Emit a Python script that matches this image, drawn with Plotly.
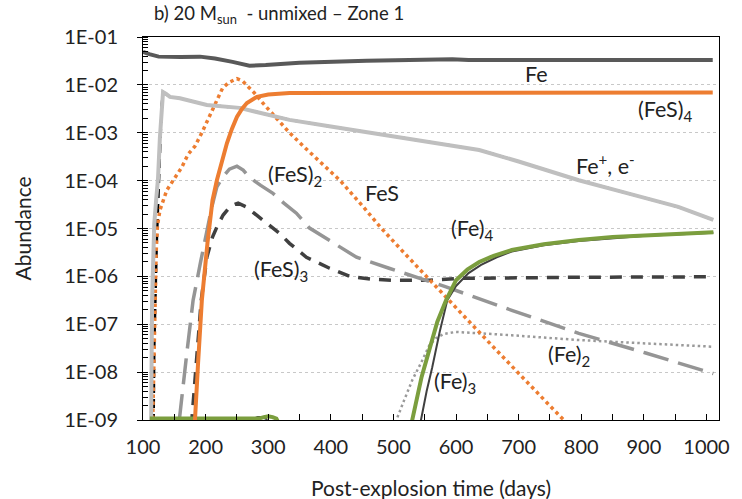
import plotly.graph_objects as go

# ---------------- data ----------------
fe_x = [100, 110, 125, 138, 160, 191, 215, 243, 260, 270, 296, 350, 457, 594, 620, 800, 1010]
fe_y = [0.049, 0.0437, 0.0389, 0.038, 0.038, 0.0389, 0.0355, 0.0302, 0.0263, 0.0251, 0.026,
        0.029, 0.032, 0.0343, 0.0331, 0.0331, 0.0331]

fes4_x = [176, 183, 188, 194, 203, 211, 218, 226, 234, 242, 250, 258, 266, 282, 300, 334, 400, 500, 700, 1010]
fes4_y = [1e-10, 1e-9, 1.58e-8, 3.16e-7, 5.0e-6, 3.89e-5, 1.02e-4, 2.69e-4, 6.03e-4, 1.20e-3, 2.14e-3,
          3.16e-3, 4.17e-3, 5.62e-3, 6.31e-3, 6.76e-3, 6.76e-3, 6.76e-3, 6.84e-3, 6.92e-3]

fes_x = [114, 116, 119, 121, 123, 127, 138, 150, 162, 172, 183, 194, 207, 218, 227, 237, 250, 259, 268,
         278, 290, 305, 320, 334, 360, 387, 415, 450, 481, 515, 552, 590, 625, 660, 699, 735, 772, 800]
fes_y = [1e-10, 3.98e-9, 3.16e-7, 3.16e-6, 1.12e-5, 2.40e-5, 6.31e-5, 1.07e-4, 1.91e-4, 3.55e-4, 5.25e-4,
         1.0e-3, 2.40e-3, 4.68e-3, 8.51e-3, 1.12e-2, 1.35e-2, 1.20e-2, 9.33e-3, 6.76e-3, 4.37e-3, 2.63e-3,
         1.58e-3, 1.0e-3, 4.68e-4, 2.14e-4, 1.0e-4, 3.02e-5, 1.0e-5, 3.31e-6, 1.0e-6, 3.02e-7, 1.0e-7,
         3.31e-8, 1.0e-8, 3.16e-9, 1.0e-9, 3.98e-10]

feplus_x = [111, 113, 114.5, 116, 118, 121, 124, 127, 130, 132, 137, 143, 159, 202, 254, 283, 334, 400,
            480, 560, 637, 700, 796, 870, 955, 1011]
feplus_y = [1e-10, 1e-9, 3.16e-7, 3.16e-6, 1.26e-5, 3.89e-5, 1.12e-4, 7.94e-4, 5.01e-3, 7.08e-3, 6.46e-3,
            5.62e-3, 5.25e-3, 3.80e-3, 3.31e-3, 2.69e-3, 1.86e-3, 1.35e-3, 9.33e-4, 6.31e-4, 4.37e-4,
            2.51e-4, 1.02e-4, 5.62e-5, 2.82e-5, 1.51e-5]

elec_x = [115, 117, 118, 120, 122, 125, 128, 130, 132, 137, 143, 159, 202, 254, 283, 334, 400,
          480, 560, 637, 700, 796, 870, 955, 1011]
elec_y = [1e-10, 1e-9, 3.16e-8, 5.01e-7, 5.01e-6, 6.31e-5, 6.31e-4, 3.98e-3, 7.08e-3, 6.46e-3,
          5.62e-3, 5.25e-3, 3.80e-3, 3.31e-3, 2.69e-3, 1.86e-3, 1.35e-3, 9.33e-4, 6.31e-4, 4.37e-4,
          2.51e-4, 1.02e-4, 5.62e-5, 2.82e-5, 1.51e-5]

fes2_x = [150, 158, 170, 180, 192, 202, 210, 218, 227, 238, 250, 260, 270, 288, 307, 325, 345, 366,
          403, 441, 493, 584, 689, 796, 903, 1011]
fes2_y = [3.16e-11, 1e-9, 2.51e-8, 3.16e-7, 2.0e-6, 9.33e-6, 2.82e-5, 7.41e-5, 1.17e-4, 1.74e-4, 2.0e-4,
          1.66e-4, 1.17e-4, 7.94e-5, 5.5e-5, 3.39e-5, 2.09e-5, 1.02e-5, 5.01e-6, 2.51e-6, 1.48e-6,
          6.03e-7, 1.95e-7, 6.46e-8, 2.51e-8, 9.33e-9]

fes3_x = [172, 178, 186, 193, 202, 211, 218, 228, 240, 252, 265, 291, 318, 334, 361, 398, 430, 466,
          500, 557, 610, 800, 1011]
fes3_y = [1e-10, 1e-9, 3.16e-8, 3.16e-7, 2.51e-6, 6.61e-6, 1.07e-5, 1.91e-5, 2.95e-5, 3.39e-5, 2.82e-5,
          1.51e-5, 7.94e-6, 4.90e-6, 2.51e-6, 1.48e-6, 1.0e-6, 8.7e-7, 8.3e-7, 8.3e-7, 9.1e-7, 9.6e-7, 9.8e-7]

fe4_x = [111, 200, 285, 293, 300, 307, 313, 318, None,
         520, 530, 545, 557, 570, 584, 600, 618, 637, 660, 689, 740, 796, 850, 903, 960, 1011]
fe4_y = [1.07e-9, 1.07e-9, 1.07e-9, 1.15e-9, 1.2e-9, 1.15e-9, 1.07e-9, 8e-10, None,
         1e-10, 1e-9, 7.94e-9, 2.88e-8, 1.12e-7, 3.16e-7, 8.32e-7, 1.38e-6, 2.0e-6, 2.69e-6, 3.55e-6,
         4.68e-6, 5.75e-6, 6.61e-6, 7.24e-6, 7.76e-6, 8.32e-6]

fe3_x = [268, 275, 283, 290, 297, 302, None,
         535, 544, 553, 562, 574, 586, 600, 620, 640, 665, 689, 740, 796, 850, 903, 960, 1011]
fe3_y = [8e-10, 1.05e-9, 1.15e-9, 1.15e-9, 1.05e-9, 8e-10, None,
         1e-10, 1e-9, 3.98e-9, 1.26e-8, 7.08e-8, 3.16e-7, 6.31e-7, 1.17e-6, 1.74e-6, 2.51e-6, 3.31e-6,
         4.47e-6, 5.5e-6, 6.31e-6, 7.08e-6, 7.59e-6, 8.13e-6]

fe2_x = [495, 506, 517, 530, 544, 557, 568, 581, 600, 637, 664, 689, 796, 903, 1011]
fe2_y = [3.16e-10, 1.10e-9, 2.57e-9, 6.76e-9, 1.55e-8, 3.55e-8, 5.13e-8, 6.31e-8, 6.92e-8, 6.61e-8,
         6.17e-8, 5.89e-8, 4.68e-8, 3.98e-8, 3.39e-8]

y_tickvals = [1e-9, 1e-8, 1e-7, 1e-6, 1e-5, 1e-4, 1e-3, 1e-2, 1e-1]
y_ticktext = ["1E-09", "1E-08", "1E-07", "1E-06", "1E-05", "1E-04", "1E-03", "1E-02", "1E-01"]

# ---------------- figure ----------------
FONT = "Lato"
TXT = "#222222"
ORANGE = "#ED7D31"

fig = go.Figure()

def add(x, y, color, width, dash="solid"):
    fig.add_trace(go.Scatter(x=x, y=y, mode="lines", connectgaps=False,
                             line=dict(color=color, width=width, dash=dash),
                             hoverinfo="skip", showlegend=False))

add(elec_x, elec_y, "#000000", 2.5, "9px,6px")
add(fe2_x, fe2_y, "#9A9A9A", 2.5, "2.5px,3px")
add(fes3_x, fes3_y, "#404040", 3.5, "12px,9px")
add(fes2_x, fes2_y, "#959595", 3.5, "26px,10px")
add(fes_x, fes_y, ORANGE, 3.5, "3.5px,3.5px")
add(feplus_x, feplus_y, "#BFBFBF", 4)
add(fe3_x, fe3_y, "#404040", 2)
add(fe4_x, fe4_y, "#7B9E3E", 4)
add(fes4_x, fes4_y, ORANGE, 4)
add(fe_x, fe_y, "#595959", 4)

labels = [
    ("Fe", 729, -1.77),
    ("(FeS)<sub>4</sub>", 934, -2.53),
    ("Fe<sup>+</sup>, e<sup>-</sup>", 839, -3.67),
    ("FeS", 482, -4.26),
    ("(FeS)<sub>2</sub>", 342, -3.90),
    ("(FeS)<sub>3</sub>", 321, -5.87),
    ("(Fe)<sub>4</sub>", 627, -5.03),
    ("(Fe)<sub>2</sub>", 780, -7.65),
    ("(Fe)<sub>3</sub>", 598, -8.21),
]
for t, x, ly in labels:
    fig.add_annotation(x=x, y=ly, xref="x", yref="y", text=t, showarrow=False,
                       font=dict(family=FONT, size=21.5, color=TXT))

fig.add_annotation(x=0.0155, y=1.0, xref="paper", yref="paper", xanchor="left", yanchor="bottom",
                   yshift=8, text="b) 20 M<sub>sun</sub>  - unmixed – Zone 1", showarrow=False,
                   font=dict(family=FONT, size=18.5, color=TXT))
fig.add_annotation(x=0.5, y=0, xref="paper", yref="paper", yanchor="middle", yshift=-67,
                   text="Post-explosion time (days)", showarrow=False,
                   font=dict(family=FONT, size=21, color=TXT))
fig.add_annotation(x=0, y=0.5, xref="paper", yref="paper", xanchor="center", xshift=-121,
                   text="Abundance", textangle=-90, showarrow=False,
                   font=dict(family=FONT, size=21, color=TXT))

fig.update_layout(
    width=742, height=499,
    margin=dict(l=143, r=21, t=37, b=79),
    paper_bgcolor="white", plot_bgcolor="white",
    font=dict(family=FONT, color=TXT),
    xaxis=dict(range=[100, 1020], tick0=100, dtick=100, ticks="inside", ticklen=6, tickcolor="black",
               showline=True, linecolor="black", linewidth=1, mirror=True, showgrid=False, zeroline=False,
               tickfont=dict(family=FONT, size=20, color=TXT), ticklabelstandoff=9,
               minor=dict(dtick=50, ticks="inside", ticklen=6, tickcolor="black", showgrid=False)),
    yaxis=dict(type="log", range=[-9, -1], tickvals=y_tickvals, ticktext=y_ticktext,
               ticks="outside", ticklen=5, tickcolor="black",
               showline=True, linecolor="black", linewidth=1, mirror=True,
               showgrid=True, gridcolor="#C8C8C8", griddash="dot", gridwidth=1, zeroline=False,
               tickfont=dict(family=FONT, size=20, color=TXT), ticklabelstandoff=15,
               minor=dict(dtick="D1", ticks="inside", ticklen=5, tickcolor="black", showgrid=False)),
)

fig.write_html("out.html")
